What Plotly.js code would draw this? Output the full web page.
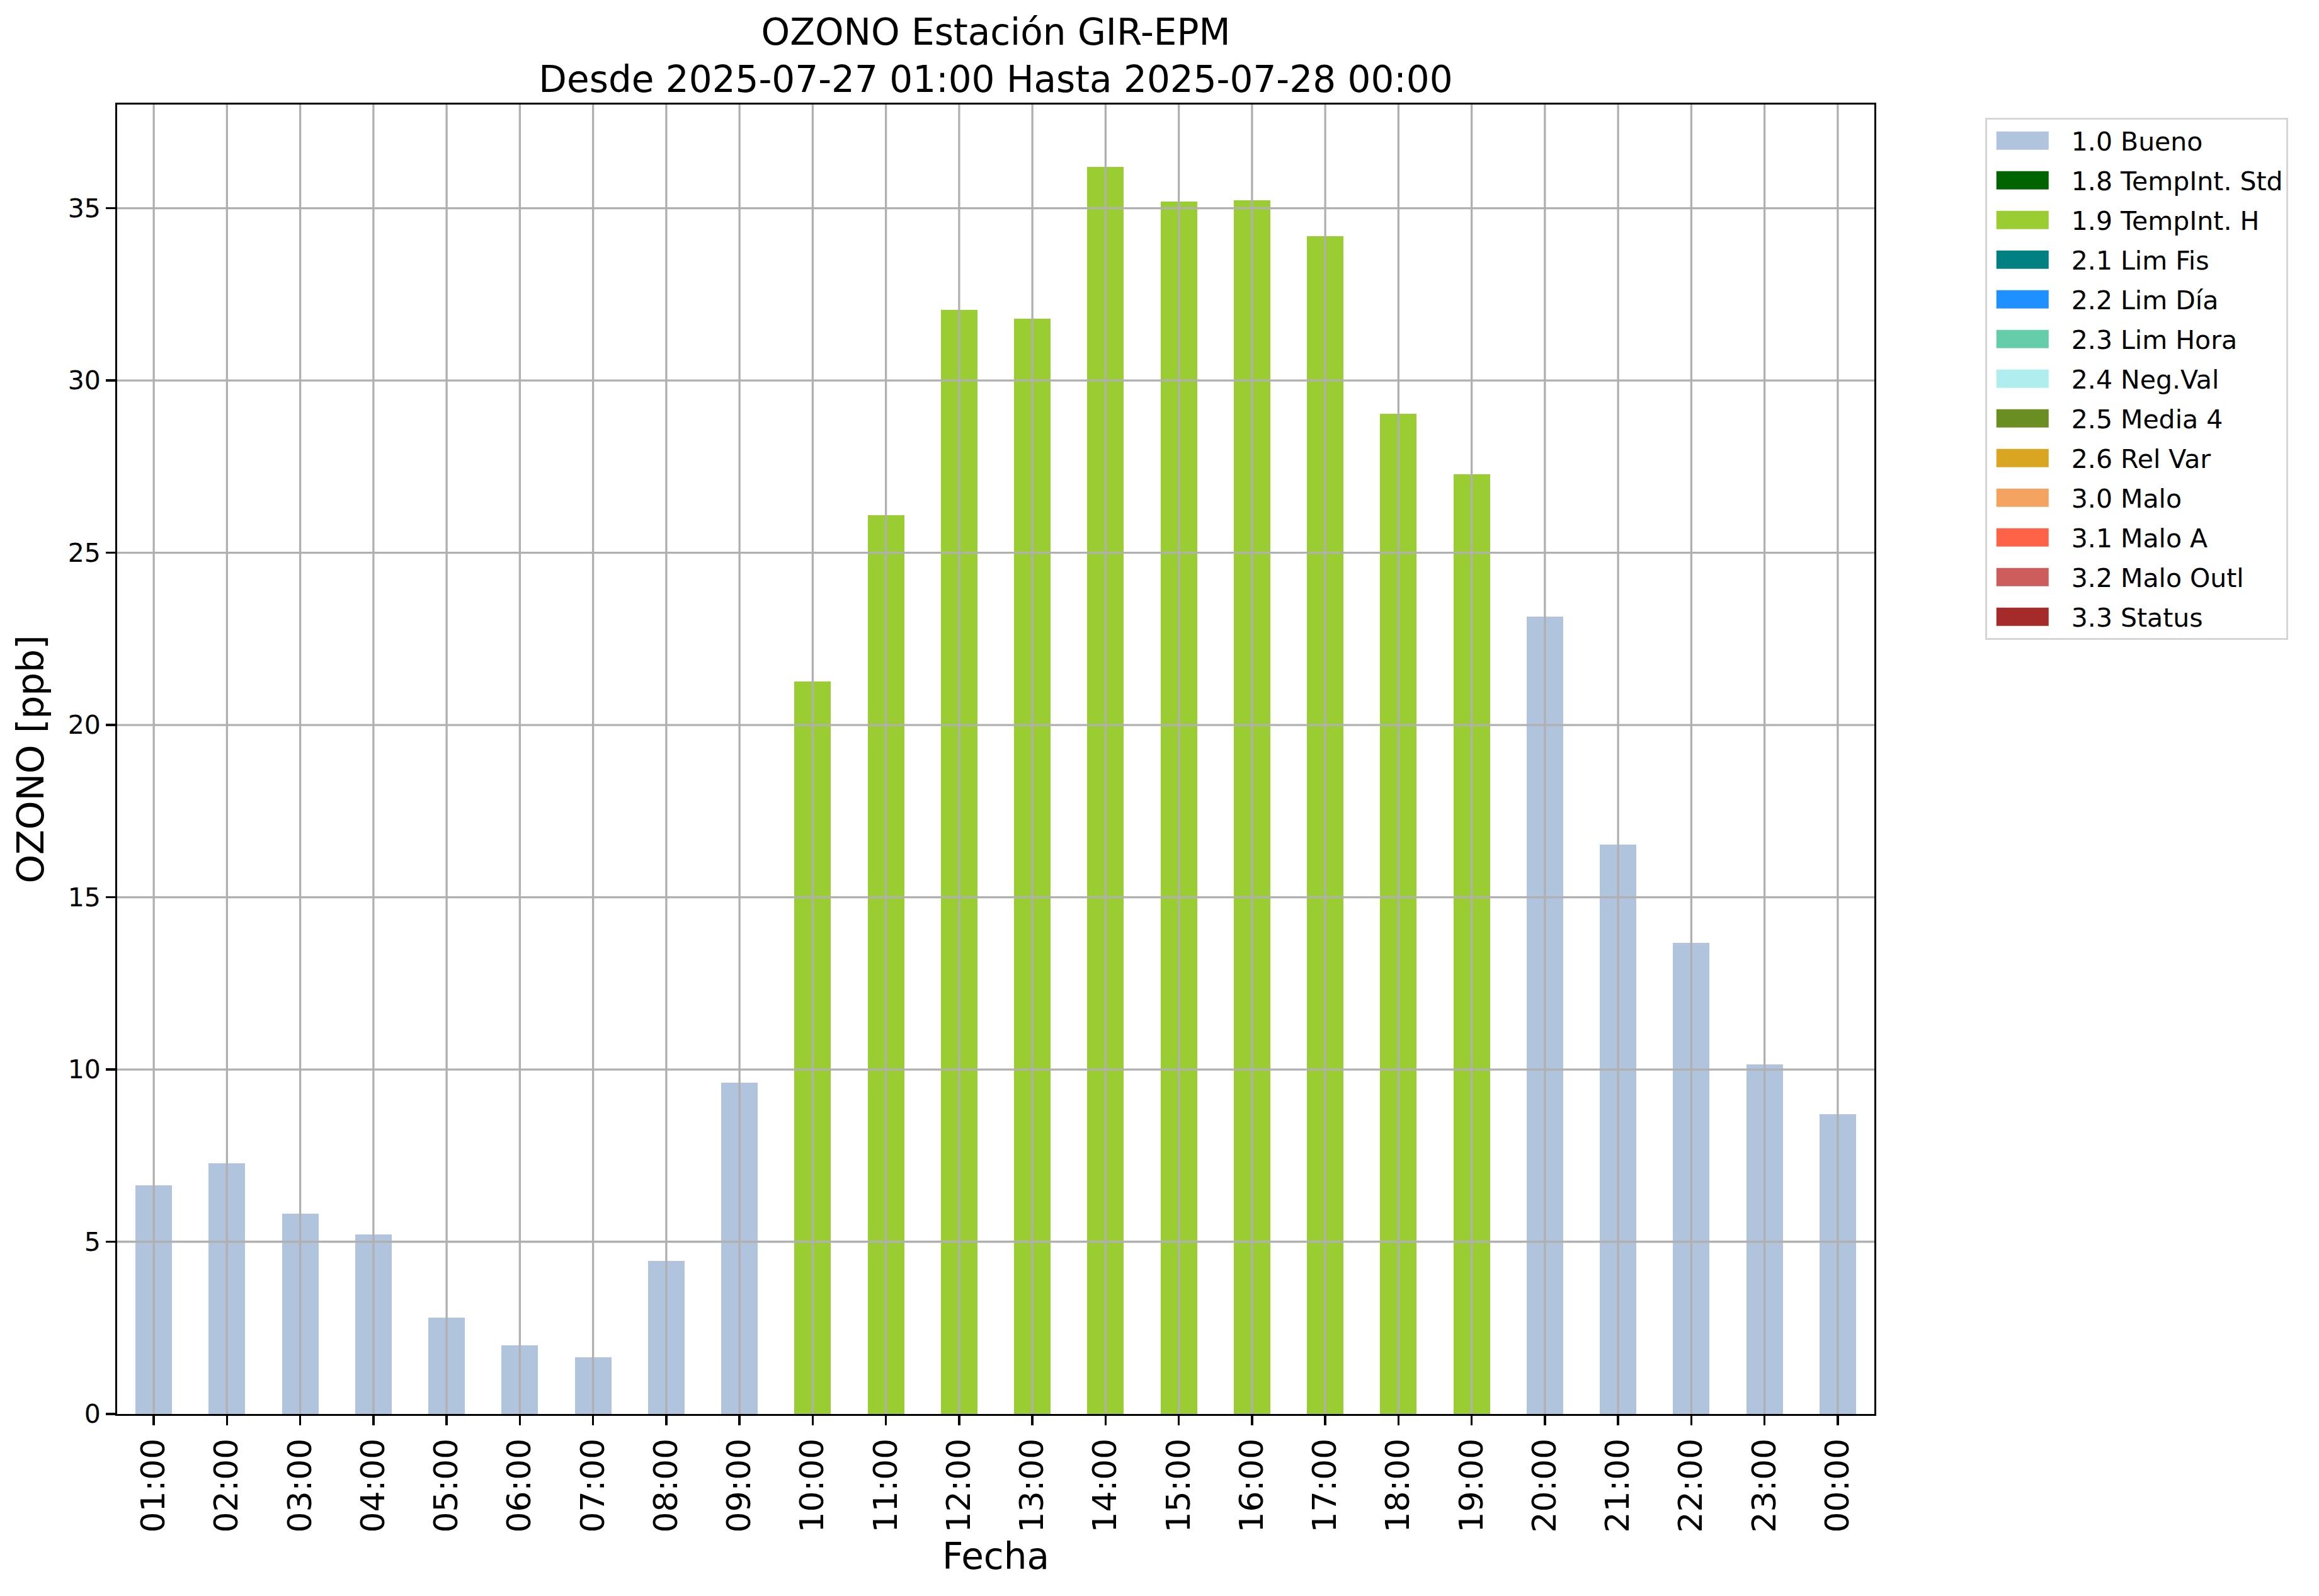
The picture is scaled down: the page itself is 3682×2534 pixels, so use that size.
<!DOCTYPE html>
<html>
<head>
<meta charset="utf-8">
<script src="https://cdn.plot.ly/plotly-3.0.1.min.js"></script>
<style>
html, body { margin: 0; padding: 0; background: #ffffff; }
#chart { width: 3682px; height: 2534px; }
</style>
</head>
<body>
<div id="chart"></div>
<script>
// ---- data ----
const hours = ['01:00','02:00','03:00','04:00','05:00','06:00','07:00','08:00','09:00','10:00','11:00','12:00',
               '13:00','14:00','15:00','16:00','17:00','18:00','19:00','20:00','21:00','22:00','23:00','00:00'];
const ozone = [6.64, 7.28, 5.81, 5.21, 2.79, 1.99, 1.64, 4.44, 9.61, 21.27, 26.09, 32.05,
               31.79, 36.20, 35.20, 35.23, 34.19, 29.03, 27.28, 23.15, 16.53, 13.68, 10.14, 8.70];
const flags = ['1.0','1.0','1.0','1.0','1.0','1.0','1.0','1.0','1.0','1.9','1.9','1.9',
               '1.9','1.9','1.9','1.9','1.9','1.9','1.9','1.0','1.0','1.0','1.0','1.0'];
const flagCodes  = ['1.0','1.8','1.9','2.1','2.2','2.3','2.4','2.5','2.6','3.0','3.1','3.2','3.3'];
const flagNames  = ['1.0 Bueno','1.8 TempInt. Std','1.9 TempInt. H','2.1 Lim Fis','2.2 Lim Día','2.3 Lim Hora',
                    '2.4 Neg.Val','2.5 Media 4','2.6 Rel Var','3.0 Malo','3.1 Malo A','3.2 Malo Outl','3.3 Status'];
const flagColors = ['#B0C4DE','#006400','#9ACD32','#008080','#1E90FF','#66CDAA',
                    '#AFEEEE','#6B8E23','#DAA520','#F4A460','#FF6347','#CD5C5C','#A52A2A'];
const yTicks = [0, 5, 10, 15, 20, 25, 30, 35];
const titleText = 'OZONO Estación GIR-EPM<br>Desde 2025-07-27 01:00 Hasta 2025-07-28 00:00';
const xTitle = 'Fecha';
const yTitle = 'OZONO [ppb]';

// ---- build traces ----
const FONT = 'DejaVu Sans, Liberation Sans, sans-serif';
const traces = flagCodes.map((code, k) => ({
  type: 'bar',
  x: hours,
  y: ozone.map((v, i) => flags[i] === code ? v : null),
  name: flagNames[k],
  legendgroup: 'g' + k,
  width: 0.5,
  marker: { color: flagColors[k], line: { width: 0 } },
  hoverinfo: 'skip'
}));

const yMax = Math.max(...ozone) * 1.05;
const GRID = '#b0b0b0';
const GW = 3.3;

// grid lines above bars (as in matplotlib), derived from ticks/categories
const shapes = [];
yTicks.filter(t => t > 0 && t < yMax).forEach(t => shapes.push({
  type: 'line', layer: 'above', xref: 'paper', yref: 'y', x0: 0, x1: 1, y0: t, y1: t,
  line: { color: GRID, width: GW }
}));
hours.forEach(h => shapes.push({
  type: 'line', layer: 'above', xref: 'x', yref: 'paper', x0: h, x1: h, y0: 0, y1: 1,
  line: { color: GRID, width: GW }
}));

const layout = {
  width: 3682, height: 2534,
  margin: { l: 186, r: 706, t: 166, b: 289 },
  paper_bgcolor: '#ffffff', plot_bgcolor: '#ffffff',
  font: { family: FONT, color: '#000000', size: 41 },
  barmode: 'stack',
  bargap: 0,
  title: {
    text: titleText,
    font: { family: FONT, size: 58, color: '#000000' },
    xref: 'paper', x: 0.5, xanchor: 'center',
    yref: 'container', y: 1 - 71 / 2534, yanchor: 'middle'
  },
  xaxis: {
    type: 'category',
    range: [-0.5, hours.length - 0.5],
    showgrid: false, zeroline: false,
    showline: true, linecolor: '#000000', linewidth: GW, mirror: true,
    ticks: 'outside', ticklen: 14.6, tickwidth: GW, tickcolor: '#000000',
    tickangle: -90,
    tickfont: { family: FONT, size: 52, color: '#000000' },
    title: { text: xTitle, font: { family: FONT, size: 58, color: '#000000' }, standoff: 18 },
    automargin: false, fixedrange: true
  },
  yaxis: {
    range: [0, yMax],
    tickmode: 'array', tickvals: yTicks, ticktext: yTicks.map(String),
    showgrid: false, zeroline: false,
    showline: true, linecolor: '#000000', linewidth: GW, mirror: true,
    ticks: 'outside', ticklen: 14.6, tickwidth: GW, tickcolor: '#000000',
    tickfont: { family: FONT, size: 41, color: '#000000' },
    title: { text: yTitle, font: { family: FONT, size: 58, color: '#000000' }, standoff: 20 },
    automargin: false, fixedrange: true
  },
  showlegend: true,
  legend: {
    x: 1.063, xanchor: 'left', y: 0.9899, yanchor: 'top',
    bgcolor: '#ffffff', bordercolor: '#d6d6d6', borderwidth: 3,
    font: { family: FONT, size: 41, color: '#000000' },
    traceorder: 'grouped', tracegroupgap: 6.7,
    itemwidth: 124, entrywidth: 480, entrywidthmode: 'pixels',
    itemclick: false, itemdoubleclick: false
  },
  shapes: shapes
};

Plotly.newPlot('chart', traces, layout, { displayModeBar: false, staticPlot: true }).then(gd => {
  // widen the legend swatches to the matplotlib patch size
  gd.querySelectorAll('.legend .legendpoints path').forEach(p => {
    p.setAttribute('d', 'M-52,-14.5h83v29h-83Z');
  });
});
</script>
</body>
</html>
